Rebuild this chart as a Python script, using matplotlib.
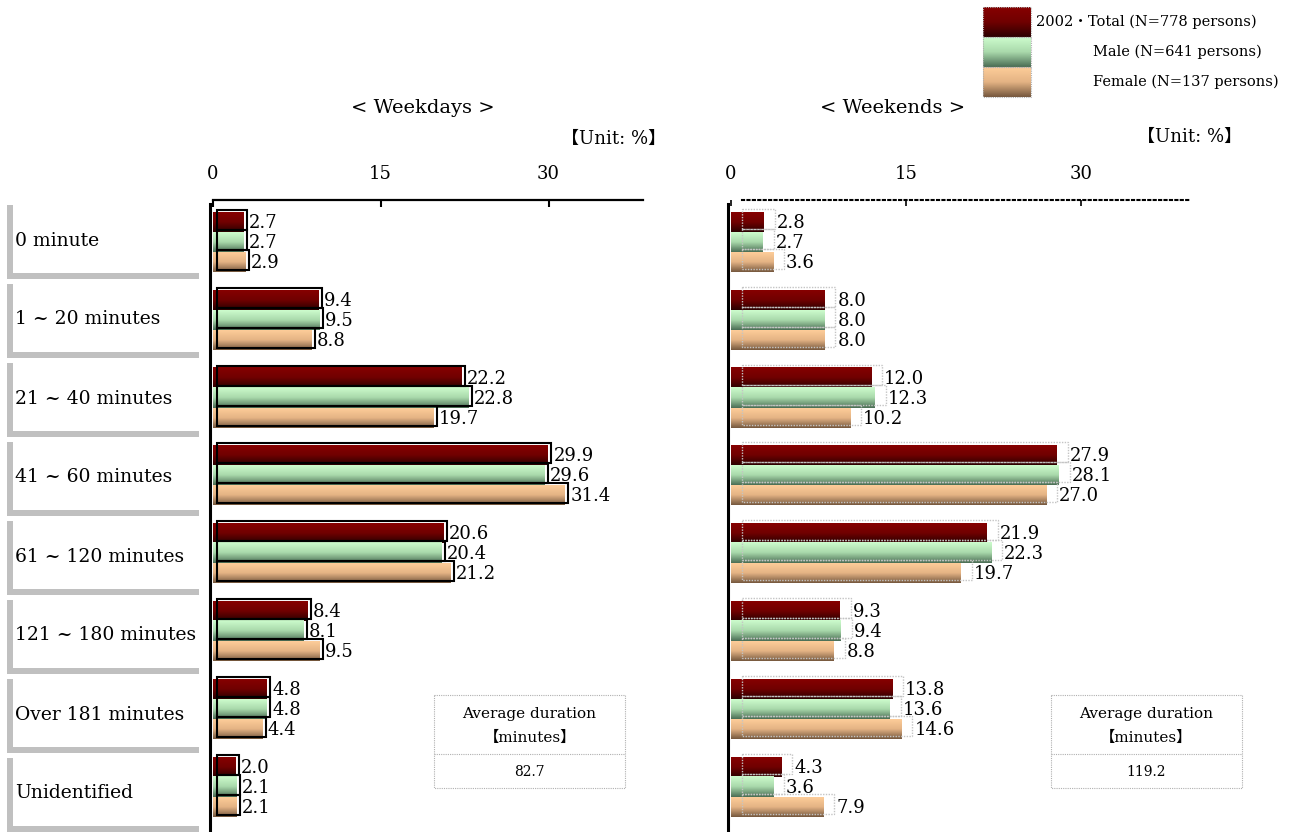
import numpy as np
import matplotlib
matplotlib.use("Agg")
import matplotlib.pyplot as plt
import matplotlib.transforms as mtransforms
from matplotlib.colors import LinearSegmentedColormap
from matplotlib.patches import Rectangle

plt.rcParams["font.family"] = ["DejaVu Serif", "Noto Sans CJK JP"]

# ---- data -------------------------------------------------------------
categories = ["0 minute", "1 ~ 20 minutes", "21 ~ 40 minutes", "41 ~ 60 minutes",
              "61 ~ 120 minutes", "121 ~ 180 minutes", "Over 181 minutes", "Unidentified"]
series_labels = ["2002・Total (N=778 persons)", "Male (N=641 persons)",
                 "Female (N=137 persons)"]
weekday_total = [2.7, 9.4, 22.2, 29.9, 20.6, 8.4, 4.8, 2.0]
weekday_male = [2.7, 9.5, 22.8, 29.6, 20.4, 8.1, 4.8, 2.1]
weekday_female = [2.9, 8.8, 19.7, 31.4, 21.2, 9.5, 4.4, 2.1]
weekend_total = [2.8, 8.0, 12.0, 27.9, 21.9, 9.3, 13.8, 4.3]
weekend_male = [2.7, 8.0, 12.3, 28.1, 22.3, 9.4, 13.6, 3.6]
weekend_female = [3.6, 8.0, 10.2, 27.0, 19.7, 8.8, 14.6, 7.9]
avg_weekday = 82.7
avg_weekend = 119.2
x_ticks = [0, 15, 30]

# ---- styling ----------------------------------------------------------
W, H, DPI = 1314, 832, 100
grad_colors = [
    ["#860000", "#700000", "#2c0000"],
    ["#cdfccd", "#a9d9ab", "#4b6e55"],
    ["#fdcd99", "#e4b384", "#76583e"],
]
cmaps = [LinearSegmentedColormap.from_list(f"g{i}", c) for i, c in enumerate(grad_colors)]
GRAD = np.linspace(0, 1, 64).reshape(-1, 1)

fig = plt.figure(figsize=(W / DPI, H / DPI), dpi=DPI)


def px_axes(x0, y0, x1, y1):
    return fig.add_axes([x0 / W, 1 - y1 / H, (x1 - x0) / W, (y1 - y0) / H])


GROUP_PX = 77.8
BAR_PX = 20.0
TOP_PX = 200
ylim_max = (H - TOP_PX) / GROUP_PX
centers = np.arange(len(categories)) + (242 - TOP_PX) / GROUP_PX
bar_h = BAR_PX / GROUP_PX


def draw_panel(ax, series, x_max, outline_kw, outline_dx, outline_dy, dotted_top):
    off = mtransforms.offset_copy(ax.transData, fig=fig, x=outline_dx, y=outline_dy,
                                  units="dots")
    for k, vals in enumerate(series):
        ys = centers + (k - 1) * bar_h
        for y, v in zip(ys, vals):
            ax.imshow(GRAD, cmap=cmaps[k], aspect="auto", interpolation="bilinear",
                      extent=(0, v, y + bar_h / 2, y - bar_h / 2), zorder=2)
            ax.annotate(f"{v:.1f}", xy=(v, y), xytext=(outline_dx + 2, -1),
                        textcoords="offset pixels", ha="left", va="center",
                        fontsize=13, zorder=5)
        ax.barh(ys, vals, height=bar_h, left=0, fill=False, transform=off,
                zorder=3, **outline_kw)
    ax.set_xlim(0, x_max)
    ax.set_ylim(ylim_max, 0)
    ax.set_yticks([])
    ax.xaxis.tick_top()
    ax.set_xticks(x_ticks)
    ax.tick_params(axis="x", direction="in", length=5, width=1.5, pad=12,
                   labelsize=13)
    for s in ("right", "bottom"):
        ax.spines[s].set_visible(False)
    ax.spines["left"].set_linewidth(2.2)
    ax.spines["left"].set_bounds(ylim_max, 4 / GROUP_PX)
    if dotted_top:
        ax.spines["top"].set_linewidth(1.5)
        ax.spines["top"].set_linestyle((0, (1, 1.6)))
        ax.spines["top"].set_bounds(outline_dx / 11.67, x_max)
        ax.spines["left"].set_position(("outward", 2.2))
        ax.tick_params(axis="x", width=1.2, length=4)
    else:
        ax.spines["top"].set_linewidth(1.6)
        ax.spines["left"].set_position(("outward", 2.0))
    ax.patch.set_alpha(0)


# weekdays panel
ax_l = px_axes(212.5, TOP_PX, 643, H)
draw_panel(ax_l, [weekday_total, weekday_male, weekday_female], (643 - 212.5) / 11.2,
           dict(edgecolor="black", linewidth=1.5), 4, 2, False)

# weekends panel
ax_r = px_axes(731, TOP_PX, 1190, H)
draw_panel(ax_r, [weekend_total, weekend_male, weekend_female], (1190 - 731) / 11.67,
           dict(edgecolor="#c4c4c4", linewidth=1.0, linestyle=(0, (1, 1))), 11, 3, True)

# category column
ax_c = px_axes(0, TOP_PX, 205, H)
CAT_PX = 79.0
ax_c.set_xlim(0, 205)
ax_c.set_ylim((H - TOP_PX) / CAT_PX, 0)
ax_c.axis("off")
for i, name in enumerate(categories):
    top = (205 - TOP_PX) / CAT_PX + i
    bot = (276 - TOP_PX) / CAT_PX + i
    ax_c.plot([10, 10], [top, bot + 3 / CAT_PX], color="#c0c0c0", lw=4.3,
              solid_capstyle="butt")
    ax_c.plot([7, 199], [bot, bot], color="#c0c0c0", lw=4.3, solid_capstyle="butt")
    ax_c.text(15, (top + bot) / 2, name, ha="left", va="center", fontsize=13.5)

# overlay in pixel coordinates for titles, legend and summary boxes
ov = fig.add_axes([0, 0, 1, 1])
ov.set_xlim(0, W)
ov.set_ylim(H, 0)
ov.axis("off")
ov.patch.set_alpha(0)

ov.text(423, 108, "< Weekdays >", ha="center", va="center", fontsize=14)
ov.text(893, 108, "< Weekends >", ha="center", va="center", fontsize=14)
ov.text(666, 139, "【Unit: %】", ha="right", va="center", fontsize=13)
ov.text(1242, 137, "【Unit: %】", ha="right", va="center", fontsize=13)

# legend
leg_x0, leg_x1 = 983, 1031
leg_tops = [7, 37, 67]
leg_text_x = [1036, 1093, 1093]
for k in range(3):
    t = leg_tops[k]
    ov.imshow(GRAD, cmap=cmaps[k], aspect="auto", interpolation="bilinear",
              extent=(leg_x0, leg_x1, t + 30, t))
    ov.add_patch(Rectangle((leg_x0, t), leg_x1 - leg_x0, 30, fill=False,
                           edgecolor="#b0b0b0", lw=0.8, ls=(0, (1, 1))))
    ov.text(leg_text_x[k], t + 15, series_labels[k], ha="left", va="center",
            fontsize=10.5)

# average duration boxes
for bx0, val in ((434, avg_weekday), (1051, avg_weekend)):
    bx1 = bx0 + 191
    ov.add_patch(Rectangle((bx0, 695), bx1 - bx0, 93, fill=False,
                           edgecolor="#b0b0b0", lw=0.8, ls=(0, (1, 1))))
    ov.plot([bx0, bx1], [754, 754], color="#b0b0b0", lw=0.8, ls=(0, (1, 1)))
    cx = (bx0 + bx1) / 2
    ov.text(cx, 714, "Average duration", ha="center", va="center", fontsize=11)
    ov.text(cx, 738, "【minutes】", ha="center", va="center", fontsize=11)
    ov.text(cx, 772, f"{val:.1f}", ha="center", va="center", fontsize=10)

ov.set_xlim(0, W)
ov.set_ylim(H, 0)

fig.savefig("out.png", dpi=DPI)
